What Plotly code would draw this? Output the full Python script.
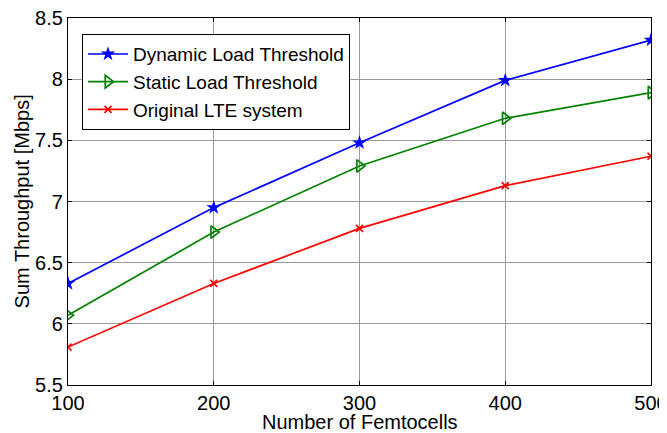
import plotly.graph_objects as go

femtocells = [100, 200, 300, 400, 500]
dynamic = [6.33, 6.95, 7.48, 7.99, 8.32]
static = [6.07, 6.75, 7.29, 7.68, 7.89]
original = [5.81, 6.33, 6.78, 7.13, 7.37]
y_ticks = [5.5, 6, 6.5, 7, 7.5, 8, 8.5]
y_labels = ["5.5", "6", "6.5", "7", "7.5", "8", "8.5"]
x_ticks = [100, 200, 300, 400, 500]
x_title = "Number of Femtocells"
y_title = "Sum Throughput [Mbps]"

FONT = "Liberation Sans, Arial"

fig = go.Figure()
fig.add_trace(go.Scatter(x=femtocells, y=dynamic, mode="lines+markers", name="Dynamic Load Threshold",
                         line=dict(color="#0000ff", width=1.7),
                         marker=dict(symbol="star", size=11, color="#0000ff")))
fig.add_trace(go.Scatter(x=femtocells, y=static, mode="lines+markers", name="Static Load Threshold",
                         line=dict(color="#008000", width=1.7),
                         marker=dict(symbol="triangle-right-open", size=11, color="#008000",
                                     line=dict(width=1.7, color="#008000"))))
fig.add_trace(go.Scatter(x=femtocells, y=original, mode="lines+markers", name="Original LTE system",
                         line=dict(color="#ff0000", width=1.7),
                         marker=dict(symbol="x-thin-open", size=7, color="#ff0000",
                                     line=dict(width=1.7, color="#ff0000"))))

axis_common = dict(showline=True, linecolor="black", linewidth=1.3, mirror="ticks",
                   ticks="inside", ticklen=4, tickcolor="black",
                   showgrid=True, gridcolor="#999999", gridwidth=1, zeroline=False,
                   automargin=False, ticklabeloverflow="allow",
                   tickfont=dict(family=FONT, size=20, color="black"))

fig.update_xaxes(range=[100, 500], tickvals=x_ticks, **axis_common)
fig.update_yaxes(range=[5.5, 8.5], tickvals=y_ticks, ticktext=y_labels, **axis_common)

fig.add_annotation(text=x_title, xref="paper", yref="paper", x=0.5, y=-0.066,
                   xanchor="center", yanchor="top", showarrow=False,
                   font=dict(family=FONT, size=20, color="black"))
fig.add_annotation(text=y_title, xref="paper", yref="paper", x=-0.079, y=0.5,
                   xanchor="center", yanchor="middle", textangle=-90, showarrow=False,
                   font=dict(family=FONT, size=20, color="black"))

fig.update_layout(
    width=667, height=425,
    margin=dict(l=60, r=24, t=10, b=48),
    plot_bgcolor="white", paper_bgcolor="white",
    legend=dict(x=0.024, y=0.956, xanchor="left", yanchor="top",
                bgcolor="white", bordercolor="black", borderwidth=1,
                font=dict(family=FONT, size=19, color="black"),
                tracegroupgap=0, itemwidth=40),
    showlegend=True,
)

fig.write_html("out.html")
